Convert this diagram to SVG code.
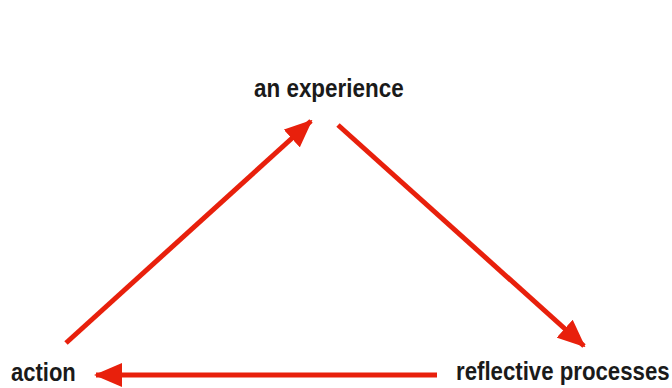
<svg xmlns="http://www.w3.org/2000/svg" width="672" height="388" viewBox="0 0 672 388">
<style>
.lbl{font-family:"Liberation Sans",Arial,sans-serif;font-weight:bold;font-size:22px;fill:#1a1a1a}
.edge{stroke:#e8200c;stroke-width:5;fill:none}
</style>
<defs>
<marker id="ah" markerUnits="userSpaceOnUse" markerWidth="28" markerHeight="24" refX="26" refY="12" orient="auto">
<path d="M0,0 L28,12 L0,24 Z" fill="#e8200c"/>
</marker>
</defs>
<rect width="672" height="388" fill="#ffffff"/>
<g id="connectors">
<line class="edge" x1="66" y1="343" x2="311" y2="121" marker-end="url(#ah)"/>
<line class="edge" x1="338" y1="125" x2="584" y2="346" marker-end="url(#ah)"/>
<line class="edge" x1="437" y1="375" x2="96" y2="375" marker-end="url(#ah)"/>
</g>
<g id="node-experience"><text class="lbl" transform="translate(254,97) scale(1.02,1.18)">an experience</text></g>
<g id="node-action"><text class="lbl" transform="translate(11,381) scale(1.0,1.18)">action</text></g>
<g id="node-reflective"><text class="lbl" transform="translate(456,380) scale(1.01,1.18)">reflective processes</text></g>
</svg>
